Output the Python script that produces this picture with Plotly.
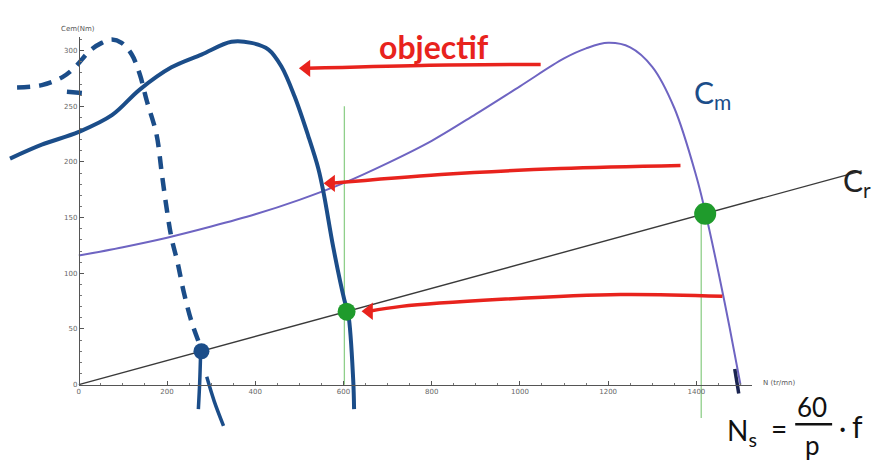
import plotly.graph_objects as go

# ---- data (speed N in tr/mn, torque C in N.m) ----
# motor torque curve Cm
N_cm = [0, 100, 200, 300, 400, 500, 600, 700, 800, 900, 1000, 1100, 1150,
        1200, 1250, 1300, 1350, 1400, 1420, 1450, 1475, 1500]
C_cm = [116, 123.5, 132, 142, 153, 166, 181, 199, 219, 243, 268, 293, 302,
        307, 303, 285.5, 248.5, 187, 155.5, 101, 52, 0]

# load torque line Cr
N_cr = [0, 1775]
C_cr = [0, 192]

# hand-drawn shifted torque curve (target)
N_hand = [-156, -84, 0, 75, 138, 210, 278, 346, 391, 430, 459, 489, 520,
          543, 556, 577, 602, 611, 622, 624]
C_hand = [203, 215.5, 227, 242, 265, 285, 296.5, 308, 307, 301, 286, 259,
          223.5, 194, 170, 123, 76, 63, 4.5, -22]

# hand-drawn dashed curve (low frequency)
N_dash = [-140, -84, -38, -9, 25, 52, 75, 97, 120, 138, 154, 176, 188, 199,
          210, 224, 238, 256, 278]
C_dash = [267, 269, 276, 285, 300, 307, 310, 307, 296.5, 279, 255, 225, 190,
          158.5, 132, 109.5, 83, 56, 32]

# extra pen strokes
N_tailA = [276, 274, 271]
C_tailA = [27, 2, -22]
N_tailB = [290, 307, 328]
C_tailB = [7, -15, -37]
N_end = [1487, 1496]
C_end = [14, -8]
N_tick = [-27, 7]
C_tick = [263, 262]

# operating points
N_green = [607, 1420]
C_green = [65.5, 153.5]
N_blue = [278]
C_blue = [30]

# vertical guide lines
N_guide1 = [602, 602]
C_guide1 = [0, 250]
N_guide2 = [1411, 1411]
C_guide2 = [-30, 160]

# red arrows (shaft points, tail -> tip)
N_arr1 = [1047, 776, 516]
C_arr1 = [287.6, 286.7, 284.1]
N_arr2 = [1364, 1092, 821, 572]
C_arr2 = [196.8, 194.1, 188.8, 180.8]
N_arr3 = [1459, 1228, 957, 731, 658]
C_arr3 = [79.3, 81, 76.6, 70.3, 65.9]

x_ticks = [0, 200, 400, 600, 800, 1000, 1200, 1400]
y_ticks = [0, 50, 100, 150, 200, 250, 300]

# ---- geometry of the drawing area ----
W, H = 888, 462
OX, OY = 77, 388          # pixel position of the origin
SX, SY = 0.4421, 1.123    # pixels per unit
X0, X1 = -OX / SX, (W - OX) / SX
Y0, Y1 = -(H - OY) / SY, OY / SY
AX_END_PX = 752           # right end of the N axis
AY_END_PX = 37            # top end of the C axis

NAVY = "#1b4d89"
PURPLE = "#6e64c2"
RED = "#e8231d"
GREEN_LINE = "#8fcf8a"
GREEN_DOT = "#1f9b2c"

fig = go.Figure()

def line(x, y, color, width, dash="solid", shape="spline"):
    fig.add_trace(go.Scatter(x=x, y=y, mode="lines", hoverinfo="skip",
                             line=dict(color=color, width=width, dash=dash,
                                       shape=shape)))

line(N_cr, C_cr, "#3a3a3a", 1.4, shape="linear")
line(N_cm, C_cm, PURPLE, 2)
line(N_guide1, C_guide1, GREEN_LINE, 1.3, shape="linear")
line(N_guide2, C_guide2, GREEN_LINE, 1.3, shape="linear")
line(N_hand, C_hand, NAVY, 4)
line(N_dash, C_dash, NAVY, 4.5, dash="13px,9px")
line(N_tailA, C_tailA, NAVY, 3.5)
line(N_tailB, C_tailB, NAVY, 3.5)
line(N_end, C_end, "#1a2450", 3.5, shape="linear")
line(N_tick, C_tick, NAVY, 4.5, shape="linear")
line(N_arr1, C_arr1, RED, 3.5)
line(N_arr2, C_arr2, RED, 3.5)
line(N_arr3, C_arr3, RED, 3.5)

# arrowheads at the tip of each red shaft
fig.add_trace(go.Scatter(
    x=[N_arr1[-1], N_arr2[-1], N_arr3[-1]],
    y=[C_arr1[-1], C_arr2[-1], C_arr3[-1]],
    mode="markers", hoverinfo="skip",
    marker=dict(symbol="triangle-left", size=15, color=RED, opacity=1,
                line=dict(width=0))))

fig.add_trace(go.Scatter(x=N_green, y=C_green, mode="markers", hoverinfo="skip",
                         marker=dict(color=GREEN_DOT, size=[18, 22], opacity=1,
                                     line=dict(width=0))))
fig.add_trace(go.Scatter(x=N_blue, y=C_blue, mode="markers", hoverinfo="skip",
                         marker=dict(color=NAVY, size=16, opacity=1,
                                     line=dict(width=0))))

# invisible trace that carries the displayed axes
fig.add_trace(go.Scatter(x=[0], y=[0], xaxis="x2", yaxis="y2", mode="markers",
                         marker=dict(opacity=0), hoverinfo="skip"))

def label(px, py, text, size, color, family="Lato"):
    fig.add_annotation(x=px / W, y=1 - py / H, xref="paper", yref="paper",
                       text=text, showarrow=False, xanchor="center",
                       yanchor="middle",
                       font=dict(size=size, color=color, family=family))

label(433, 47, "<b>objectif</b>", 32, RED)
label(712, 95, "C<sub>m</sub>", 30, NAVY)
label(857, 184, "C<sub>r</sub>", 30, "#222")
label(742, 436, "N<sub>s</sub>", 28, "#111")
label(779, 432, "=", 28, "#111")
label(812, 411, "60", 26, "#111")
label(812, 449, "p", 26, "#111")
label(842, 431, "·", 28, "#111")
label(857, 430, "f", 30, "#111")
fig.add_shape(type="line", xref="paper", yref="paper",
              x0=795 / W, x1=832 / W, y0=1 - 428 / H, y1=1 - 428 / H,
              line=dict(color="#111", width=2.5))

label(76, 29, "Cem(Nm)", 7, "#555", "DejaVu Sans")
label(779, 386, "N (tr/mn)", 7, "#555", "DejaVu Sans")

axis_font = dict(size=7, color="#666", family="DejaVu Sans")
fig.update_layout(
    width=W, height=H, autosize=False,
    margin=dict(l=0, r=0, t=0, b=0, pad=0),
    paper_bgcolor="white", plot_bgcolor="rgba(0,0,0,0)",
    showlegend=False,
    xaxis=dict(domain=[0, 1], range=[X0, X1], visible=False),
    yaxis=dict(domain=[0, 1], range=[Y0, Y1], visible=False),
    xaxis2=dict(domain=[OX / W, AX_END_PX / W],
                range=[0, (AX_END_PX - OX) / SX],
                anchor="free", position=(H - OY) / H,
                showline=True, linecolor="#555", linewidth=1,
                showgrid=False, zeroline=False,
                tickmode="array", tickvals=x_ticks,
                ticktext=[str(v) for v in x_ticks],
                ticks="inside", ticklen=4, tickcolor="#555",
                minor=dict(dtick=50, ticks="inside", ticklen=2,
                           tickcolor="#777", showgrid=False),
                tickfont=axis_font),
    yaxis2=dict(domain=[(H - OY) / H, (H - AY_END_PX) / H],
                range=[0, (OY - AY_END_PX) / SY],
                anchor="free", position=OX / W,
                showline=True, linecolor="#555", linewidth=1,
                showgrid=False, zeroline=False,
                tickmode="array", tickvals=y_ticks,
                ticktext=[str(v) for v in y_ticks],
                ticks="inside", ticklen=4, tickcolor="#555",
                minor=dict(dtick=10, ticks="inside", ticklen=2,
                           tickcolor="#777", showgrid=False),
                tickfont=axis_font),
)

fig.write_html("out.html")
